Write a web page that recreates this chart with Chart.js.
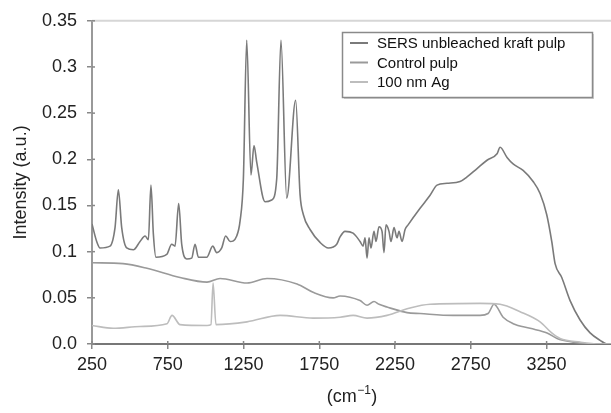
<!DOCTYPE html>
<html><head><meta charset="utf-8">
<script src="https://cdn.jsdelivr.net/npm/chart.js@4.4.1/dist/chart.umd.min.js"></script>
<style>html,body{margin:0;padding:0;background:#fff;} #wrap{width:611px;height:413px;}</style>
</head><body><div id="wrap"><canvas id="c" width="611" height="413"></canvas></div>
<script>
const seriesLabels = ['SERS unbleached kraft pulp', 'Control pulp', '100 nm Ag'];
const seriesColors = ['#7a7a7a', '#9a9a9a', '#bdbdbd'];

const sersX = [250,281,303,369,402,424,446,479,523,567,600,622,639,655,672,743,776,798,822,842,875,908,930,952,1007,1047,1073,1106,1132,1161,1205,1227,1249,1271,1299,1319,1337,1392,1436,1469,1497,1535,1594,1623,1645,1689,1755,1810,1865,1887,1920,1973,2019,2039,2052,2065,2078,2091,2111,2124,2144,2164,2177,2190,2210,2223,2243,2263,2276,2296,2316,2336,2415,2481,2527,2593,2679,2725,2791,2857,2923,2943,2989,3029,3095,3161,3207,3251,3284,3306,3350,3405,3471,3537,3603,3649,3675];
const sersY = [0.130,0.111,0.104,0.106,0.126,0.167,0.126,0.104,0.102,0.111,0.117,0.113,0.172,0.119,0.094,0.097,0.108,0.106,0.152,0.108,0.092,0.093,0.108,0.094,0.094,0.106,0.099,0.104,0.117,0.111,0.117,0.133,0.179,0.329,0.183,0.215,0.197,0.154,0.156,0.179,0.329,0.158,0.264,0.162,0.140,0.124,0.110,0.104,0.108,0.116,0.122,0.120,0.111,0.106,0.115,0.093,0.115,0.104,0.122,0.111,0.127,0.122,0.099,0.129,0.122,0.111,0.126,0.115,0.122,0.111,0.124,0.129,0.147,0.161,0.172,0.174,0.176,0.181,0.190,0.199,0.206,0.213,0.202,0.195,0.188,0.176,0.163,0.140,0.111,0.087,0.072,0.047,0.026,0.012,0.004,0.000,0.000];

const controlX = [250,455,613,831,1009,1095,1273,1405,1603,1709,1841,1887,2019,2065,2111,2144,2197,2329,2415,2633,2811,2864,2903,2963,3029,3141,3253,3319,3425,3537,3675];
const controlY = [0.088,0.087,0.082,0.072,0.067,0.071,0.066,0.071,0.065,0.056,0.050,0.052,0.047,0.042,0.046,0.043,0.040,0.034,0.033,0.031,0.031,0.033,0.043,0.029,0.022,0.017,0.012,0.006,0.002,0.000,0.000];

const agX = [250,389,567,745,778,831,1009,1035,1049,1068,1273,1491,1709,1887,1973,2065,2197,2349,2481,2811,2943,3075,3207,3284,3339,3471,3600,3675];
const agY = [0.020,0.017,0.019,0.022,0.031,0.021,0.020,0.021,0.066,0.021,0.024,0.031,0.028,0.029,0.031,0.028,0.031,0.039,0.043,0.044,0.043,0.035,0.024,0.012,0.006,0.002,0.000,0.000];

const xTicks = [250,750,1250,1750,2250,2750,3250];
const xTickLabels = ['250','750','1250','1750','2250','2750','3250'];
const yTicks = [0,0.05,0.1,0.15,0.2,0.25,0.3,0.35];
const yTickLabels = ['0.0','0.05','0.1','0.15','0.2','0.25','0.3','0.35'];
const xRange = [250, 3675];
const yRange = [0, 0.35];

function pts(xs, ys){ return xs.map((x,i)=>({x:x, y:ys[i]})); }
const allSeries = [pts(sersX,sersY), pts(controlX,controlY), pts(agX,agY)];

const decor = {
  id:'decor',
  afterDraw(chart){
    const ctx=chart.ctx, ca=chart.chartArea, xs=chart.scales.x, ys=chart.scales.y;
    ctx.save();
    ctx.strokeStyle='#d6d6d6'; ctx.lineWidth=2;
    ctx.beginPath(); ctx.moveTo(ca.left, ca.top); ctx.lineTo(ca.right, ca.top); ctx.stroke();
    ctx.strokeStyle='#888'; ctx.lineWidth=1.5;
    yTicks.forEach(v=>{const y=ys.getPixelForValue(v); ctx.beginPath(); ctx.moveTo(ca.left, y); ctx.lineTo(ca.left+3,y); ctx.stroke();});
    xTicks.forEach(v=>{const x=xs.getPixelForValue(v); ctx.beginPath(); ctx.moveTo(x, ca.bottom); ctx.lineTo(x, ca.bottom-3); ctx.stroke();});
    // x title with superscript
    ctx.fillStyle='#222'; ctx.textBaseline='alphabetic'; ctx.textAlign='left';
    const big='18px "Liberation Sans", Arial, sans-serif', small='12px "Liberation Sans", Arial, sans-serif';
    ctx.font=big; const w1=ctx.measureText('(cm').width, w3=ctx.measureText(')').width;
    ctx.font=small; const w2=ctx.measureText('\u22121').width;
    const cx=(ca.left+ca.right)/2, by=402;
    let x0=cx-(w1+w2+w3)/2;
    ctx.font=big; ctx.fillText('(cm', x0, by);
    ctx.font=small; ctx.fillText('\u22121', x0+w1+0.5, by-8);
    ctx.font=big; ctx.fillText(')', x0+w1+w2+1, by);
    // legend
    const lx=342, ly=32, lw=250, lh=65;
    ctx.fillStyle='#d0d0d0'; ctx.fillRect(lx+2, ly+2, lw, lh);
    ctx.fillStyle='#fff'; ctx.fillRect(lx, ly, lw, lh);
    ctx.strokeStyle='#8a8a8a'; ctx.lineWidth=1.5; ctx.strokeRect(lx+0.5, ly+0.5, lw, lh);
    ctx.font='15px "Liberation Sans", Arial, sans-serif'; ctx.textBaseline='middle';
    seriesLabels.forEach((lab,i)=>{
      const yy=43+i*19.5;
      ctx.strokeStyle=seriesColors[i]; ctx.lineWidth=2;
      ctx.beginPath(); ctx.moveTo(350,yy); ctx.lineTo(368,yy); ctx.stroke();
      ctx.fillStyle='#111'; ctx.fillText(lab, 377, yy+1);
    });
    ctx.restore();
  }
};

new Chart(document.getElementById('c'), {
  type:'line',
  data:{ datasets: allSeries.map((d,i)=>({
    label: seriesLabels[i], data: d, borderColor: seriesColors[i], borderWidth: 1.6,
    pointRadius: 0, fill: false, cubicInterpolationMode: 'monotone'
  })).reverse() },
  options:{
    responsive:false, animation:false, devicePixelRatio:1,
    layout:{ padding:{ top:17, right:0, left:0, bottom:0 } },
    plugins:{ legend:{display:false}, tooltip:{enabled:false} },
    scales:{
      x:{ type:'linear', min:xRange[0], max:xRange[1],
        afterBuildTicks:(s)=>{ s.ticks = xTicks.map(v=>({value:v})); },
        afterFit:(s)=>{ s.height = 69; },
        grid:{ drawOnChartArea:false, drawTicks:true, tickLength:5, color:'#888', lineWidth:1.5 },
        border:{ display:true, color:'#777', width:2 },
        ticks:{ color:'#222', padding:5, maxRotation:0, autoSkip:false,
          callback:(v,i)=>xTickLabels[i],
          font:{ family:'"Liberation Sans", Arial, sans-serif', size:18 } },
        title:{ display:false }
      },
      y:{ type:'linear', min:yRange[0], max:yRange[1],
        afterBuildTicks:(s)=>{ s.ticks = yTicks.map(v=>({value:v})); },
        afterFit:(s)=>{ s.width = 92; },
        grid:{ drawOnChartArea:false, drawTicks:true, tickLength:5, color:'#888', lineWidth:1.5 },
        border:{ display:true, color:'#999', width:2 },
        ticks:{ color:'#222', padding:10, autoSkip:false,
          callback:(v,i)=>yTickLabels[i],
          font:{ family:'"Liberation Sans", Arial, sans-serif', size:18 } },
        title:{ display:true, text:'Intensity (a.u.)', color:'#222', padding:{top:10,bottom:0},
          font:{ family:'"Liberation Sans", Arial, sans-serif', size:18 } }
      }
    }
  },
  plugins:[decor]
});
</script></body></html>
